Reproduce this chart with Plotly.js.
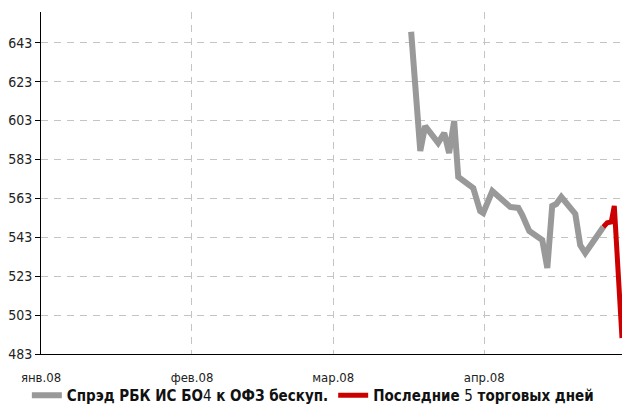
<!DOCTYPE html>
<html>
<head>
<meta charset="utf-8">
<script src="https://cdn.plot.ly/plotly-3.0.1.min.js"></script>
<style>html,body{margin:0;padding:0;background:#fff;}#chart{width:622px;height:412px;}</style>
</head>
<body>
<div id="chart"></div>
<script>
// Spread series (gray)
const spreadDates = [
  '2008-03-17 00:00','2008-03-18 21:00','2008-03-19 21:00','2008-03-22 13:00','2008-03-23 19:00',
  '2008-03-24 19:00','2008-03-25 20:00','2008-03-26 16:00','2008-03-29 18:00','2008-03-31 04:00',
  '2008-03-31 19:00','2008-04-02 16:00','2008-04-06 08:00','2008-04-08 00:00','2008-04-08 19:00',
  '2008-04-10 06:00','2008-04-12 22:00','2008-04-13 23:00','2008-04-14 23:00','2008-04-15 19:00',
  '2008-04-16 20:00','2008-04-19 17:00','2008-04-20 17:00','2008-04-21 18:00','2008-04-25 11:00'
];
const spreadValues = [
  648.6, 587.4, 600.2, 591.5, 596.6,
  586.3, 602.8, 574.0, 568.3, 556.5,
  555.5, 566.8, 558.6, 558.1, 554.5,
  546.2, 541.6, 527.2, 559.1, 560.1,
  563.7, 555.0, 539.0, 534.9, 548.3
];
// Last 5 trading days (red)
const lastDates = ['2008-04-25 11:00','2008-04-26 06:00','2008-04-27 02:00','2008-04-27 17:00','2008-04-29 07:00'];
const lastValues = [548.3, 550.4, 550.9, 559.1, 491.2];

const monthTicks = ['2008-01-01','2008-02-01','2008-03-01','2008-04-01'];
const monthLabels = ['янв.08','фев.08','мар.08','апр.08'];
const yTicks = [483, 503, 523, 543, 563, 583, 603, 623, 643];

const FONT = '"Liberation Sans Narrow", "Arial Narrow", "DejaVu Sans Condensed", Arial, sans-serif';

const traces = [
  {
    x: spreadDates, y: spreadValues, type: 'scatter', mode: 'lines',
    name: '<b>Спрэд РБК ИС БО</b>4<b> к ОФЗ бескуп.</b>',
    line: {color: '#999999', width: 6}
  },
  {
    x: lastDates, y: lastValues, type: 'scatter', mode: 'lines',
    name: '<b>Последние </b>5<b> торговых дней</b>',
    line: {color: '#cc0000', width: 5}
  }
];

const layout = {
  width: 622, height: 412,
  margin: {l: 41, r: 0, t: 12, b: 58},
  paper_bgcolor: '#ffffff', plot_bgcolor: '#ffffff',
  font: {family: FONT, size: 13, color: '#222222'},
  showlegend: true,
  legend: {
    orientation: 'h', xref: 'container', yref: 'container',
    x: 0.503, xanchor: 'center', y: 0.0, yanchor: 'bottom',
    font: {family: FONT, size: 15, color: '#111111'},
    itemwidth: 30, tracegroupgap: 0,
    bgcolor: 'rgba(0,0,0,0)'
  },
  xaxis: {
    type: 'date',
    range: ['2008-01-01', '2008-04-29 07:00'],
    tickmode: 'array', tickvals: monthTicks, ticktext: monthLabels,
    showgrid: true, gridcolor: '#c4c4c4', griddash: '7px,6px', gridwidth: 1,
    showline: true, linecolor: '#000000', linewidth: 1,
    ticks: '', ticklabelstandoff: 11,
    tickfont: {family: FONT, size: 13, color: '#222222'},
    zeroline: false, fixedrange: true
  },
  yaxis: {
    range: [483, 658.8],
    tickmode: 'array', tickvals: yTicks,
    showgrid: true, gridcolor: '#c4c4c4', griddash: '7px,6px', gridwidth: 1,
    showline: true, linecolor: '#000000', linewidth: 1,
    ticks: 'outside', ticklen: 5, tickcolor: '#000000', tickwidth: 1,
    tickfont: {family: FONT, size: 14, color: '#222222'},
    zeroline: false, fixedrange: true
  }
};

Plotly.newPlot('chart', traces, layout, {displayModeBar: false, staticPlot: true});
</script>
</body>
</html>
